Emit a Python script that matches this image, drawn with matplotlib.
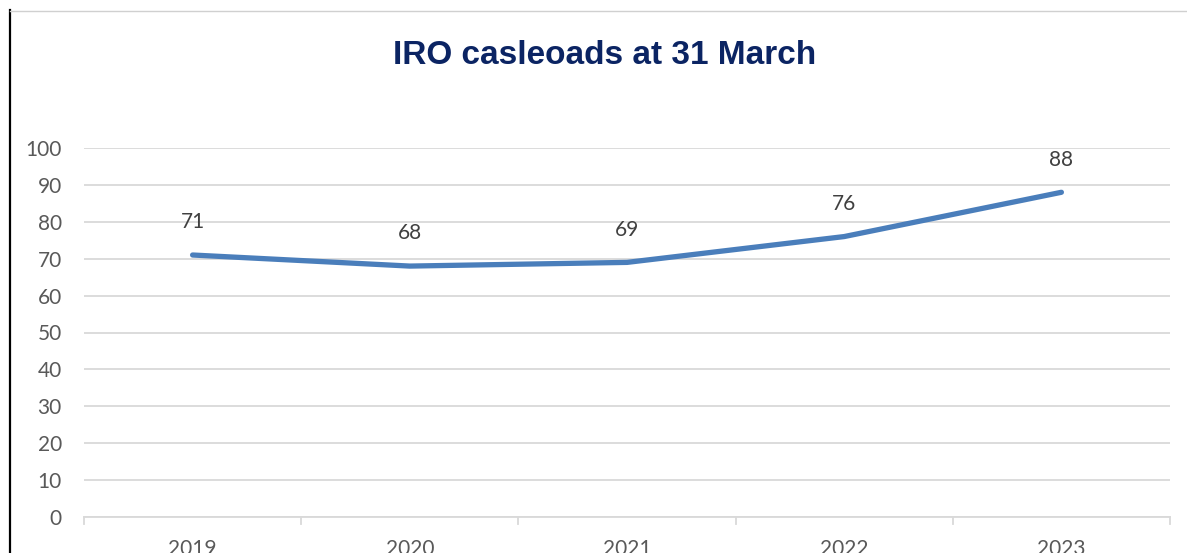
import matplotlib
matplotlib.use("Agg")
import matplotlib.pyplot as plt
from matplotlib.lines import Line2D

years = ["2019", "2020", "2021", "2022", "2023"]
caseloads = [71, 68, 69, 76, 88]
yticks = [0, 10, 20, 30, 40, 50, 60, 70, 80, 90, 100]

W, H = 1187, 553
fig = plt.figure(figsize=(W / 100, H / 100), dpi=100)
ax = fig.add_axes([84 / W, 1 - 517 / H, (1170 - 84) / W, (517 - 148) / H])

x = list(range(len(years)))
ax.plot(x, caseloads, color="#4A7EBB", lw=3.8, solid_capstyle="round", solid_joinstyle="round", zorder=3)
for xi, v in zip(x, caseloads):
    ax.annotate(str(v), (xi, v), xytext=(0, 23.5), textcoords="offset points",
                ha="center", va="center", fontsize=15, color="#404040", family="Lato")

ax.set_xlim(-0.5, len(years) - 0.5)
ax.set_ylim(0, 100)
ax.set_yticks(yticks)
ax.set_yticklabels([str(t) for t in yticks], fontsize=15, color="#595959", family="Lato")
ax.yaxis.grid(True, color="#D9D9D9", lw=1.3)
ax.set_axisbelow(True)
ax.tick_params(axis="y", length=0, pad=16)
ax.set_xticks(x)
ax.set_xticklabels(years, fontsize=15, color="#595959", family="Lato")
ax.tick_params(axis="x", length=0, pad=16)
for s in ["top", "right", "left"]:
    ax.spines[s].set_visible(False)
ax.spines["bottom"].set_color("#D9D9D9")
ax.spines["bottom"].set_linewidth(1.3)
# category boundary tick marks
for b in [i - 0.5 for i in range(len(years) + 1)]:
    ax.add_line(Line2D([b, b], [0, -2], color="#D9D9D9", lw=1.3, clip_on=False,
                       transform=ax.transData))

fig.text(605 / W, 1 - 55 / H, "IRO casleoads at 31 March", ha="center", va="center",
         fontsize=24, fontweight="bold", color="#0B2463", family="Liberation Sans")

# frame borders
fig.add_artist(Line2D([10 / W, 10 / W], [0, 1 - 10 / H], color="black", lw=1.6, transform=fig.transFigure))
fig.add_artist(Line2D([10 / W, 1], [1 - 11 / H, 1 - 11 / H], color="#D0D0D0", lw=1, transform=fig.transFigure))

fig.savefig("out.png", dpi=100)
